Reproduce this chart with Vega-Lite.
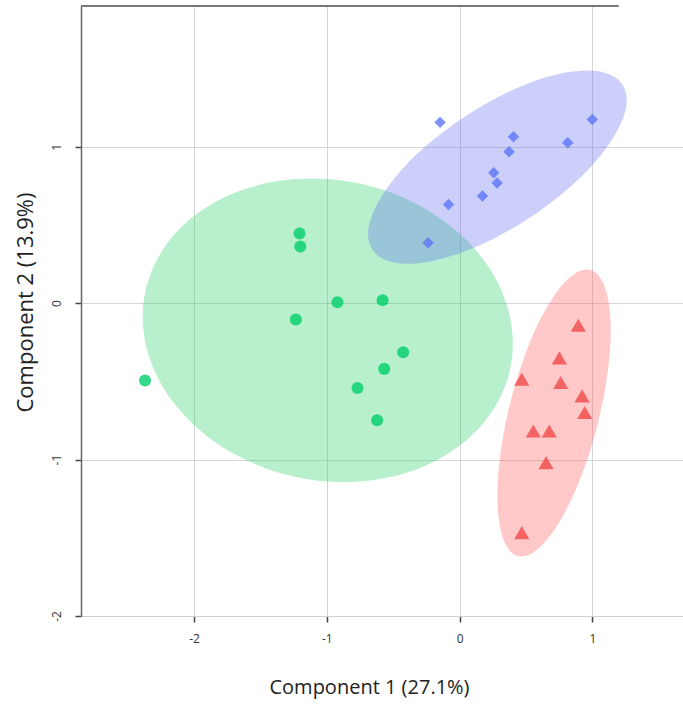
{
  "$schema": "https://vega.github.io/schema/vega-lite/v6.json",
  "width": 602,
  "height": 610,
  "autosize": "none",
  "padding": {"left": 81, "top": 6, "right": 0, "bottom": 90},
  "config": {"view": {"stroke": null}, "font": "Open Sans"},
  "datasets": {
    "points": [
      {"group": "g", "x": -1.205, "y": 0.446}, {"group": "g", "x": -1.2, "y": 0.363}, {"group": "g", "x": -0.92, "y": 0.006},
      {"group": "g", "x": -0.58, "y": 0.019}, {"group": "g", "x": -1.233, "y": -0.104}, {"group": "g", "x": -0.425, "y": -0.314},
      {"group": "g", "x": -0.568, "y": -0.42}, {"group": "g", "x": -0.769, "y": -0.542}, {"group": "g", "x": -0.621, "y": -0.749},
      {"group": "g", "x": -2.369, "y": -0.495},
      {"group": "b", "x": -0.147, "y": 1.156}, {"group": "b", "x": 0.405, "y": 1.064}, {"group": "b", "x": 0.372, "y": 0.968},
      {"group": "b", "x": 0.999, "y": 1.175}, {"group": "b", "x": 0.814, "y": 1.026}, {"group": "b", "x": 0.257, "y": 0.834},
      {"group": "b", "x": 0.282, "y": 0.768}, {"group": "b", "x": 0.172, "y": 0.685}, {"group": "b", "x": -0.084, "y": 0.631},
      {"group": "b", "x": -0.237, "y": 0.386},
      {"group": "r", "x": 0.894, "y": -0.141}, {"group": "r", "x": 0.751, "y": -0.35}, {"group": "r", "x": 0.468, "y": -0.486},
      {"group": "r", "x": 0.761, "y": -0.507}, {"group": "r", "x": 0.922, "y": -0.593}, {"group": "r", "x": 0.942, "y": -0.699},
      {"group": "r", "x": 0.555, "y": -0.817}, {"group": "r", "x": 0.675, "y": -0.817}, {"group": "r", "x": 0.651, "y": -1.019},
      {"group": "r", "x": 0.468, "y": -1.467}
    ],
    "ellipses": [
      {"group": "g", "i": 0, "x": 0.401, "y": -0.258}, {"group": "g", "i": 1, "x": 0.353, "y": -0.005},
      {"group": "g", "i": 2, "x": 0.214, "y": 0.237}, {"group": "g", "i": 3, "x": -0.008, "y": 0.45},
      {"group": "g", "i": 4, "x": -0.296, "y": 0.622}, {"group": "g", "i": 5, "x": -0.632, "y": 0.739},
      {"group": "g", "i": 6, "x": -0.993, "y": 0.794}, {"group": "g", "i": 7, "x": -1.354, "y": 0.783},
      {"group": "g", "i": 8, "x": -1.69, "y": 0.707}, {"group": "g", "i": 9, "x": -1.978, "y": 0.571},
      {"group": "g", "i": 10, "x": -2.2, "y": 0.384}, {"group": "g", "i": 11, "x": -2.339, "y": 0.159},
      {"group": "g", "i": 12, "x": -2.387, "y": -0.088}, {"group": "g", "i": 13, "x": -2.339, "y": -0.341},
      {"group": "g", "i": 14, "x": -2.2, "y": -0.583}, {"group": "g", "i": 15, "x": -1.978, "y": -0.796},
      {"group": "g", "i": 16, "x": -1.69, "y": -0.968}, {"group": "g", "i": 17, "x": -1.354, "y": -1.085},
      {"group": "g", "i": 18, "x": -0.993, "y": -1.14}, {"group": "g", "i": 19, "x": -0.632, "y": -1.129},
      {"group": "g", "i": 20, "x": -0.296, "y": -1.053}, {"group": "g", "i": 21, "x": -0.008, "y": -0.917},
      {"group": "g", "i": 22, "x": 0.214, "y": -0.73}, {"group": "g", "i": 23, "x": 0.353, "y": -0.506},
      {"group": "b", "i": 0, "x": 1.258, "y": 1.299}, {"group": "b", "i": 1, "x": 1.225, "y": 1.399},
      {"group": "b", "i": 2, "x": 1.127, "y": 1.464}, {"group": "b", "i": 3, "x": 0.973, "y": 1.488},
      {"group": "b", "i": 4, "x": 0.771, "y": 1.47}, {"group": "b", "i": 5, "x": 0.536, "y": 1.411},
      {"group": "b", "i": 6, "x": 0.284, "y": 1.315}, {"group": "b", "i": 7, "x": 0.032, "y": 1.189},
      {"group": "b", "i": 8, "x": -0.203, "y": 1.041}, {"group": "b", "i": 9, "x": -0.405, "y": 0.882},
      {"group": "b", "i": 10, "x": -0.559, "y": 0.721}, {"group": "b", "i": 11, "x": -0.656, "y": 0.571},
      {"group": "b", "i": 12, "x": -0.69, "y": 0.441}, {"group": "b", "i": 13, "x": -0.656, "y": 0.341},
      {"group": "b", "i": 14, "x": -0.559, "y": 0.276}, {"group": "b", "i": 15, "x": -0.405, "y": 0.252},
      {"group": "b", "i": 16, "x": -0.203, "y": 0.27}, {"group": "b", "i": 17, "x": 0.032, "y": 0.329},
      {"group": "b", "i": 18, "x": 0.284, "y": 0.425}, {"group": "b", "i": 19, "x": 0.536, "y": 0.551},
      {"group": "b", "i": 20, "x": 0.771, "y": 0.699}, {"group": "b", "i": 21, "x": 0.973, "y": 0.858},
      {"group": "b", "i": 22, "x": 1.127, "y": 1.019}, {"group": "b", "i": 23, "x": 1.225, "y": 1.169},
      {"group": "r", "i": 0, "x": 0.957, "y": 0.216}, {"group": "r", "i": 1, "x": 1.039, "y": 0.184},
      {"group": "r", "i": 2, "x": 1.098, "y": 0.093}, {"group": "r", "i": 3, "x": 1.131, "y": -0.053},
      {"group": "r", "i": 4, "x": 1.136, "y": -0.243}, {"group": "r", "i": 5, "x": 1.111, "y": -0.465},
      {"group": "r", "i": 6, "x": 1.059, "y": -0.702}, {"group": "r", "i": 7, "x": 0.984, "y": -0.94},
      {"group": "r", "i": 8, "x": 0.89, "y": -1.161}, {"group": "r", "i": 9, "x": 0.784, "y": -1.351},
      {"group": "r", "i": 10, "x": 0.672, "y": -1.497}, {"group": "r", "i": 11, "x": 0.564, "y": -1.588},
      {"group": "r", "i": 12, "x": 0.465, "y": -1.62}, {"group": "r", "i": 13, "x": 0.383, "y": -1.588},
      {"group": "r", "i": 14, "x": 0.324, "y": -1.497}, {"group": "r", "i": 15, "x": 0.291, "y": -1.351},
      {"group": "r", "i": 16, "x": 0.286, "y": -1.161}, {"group": "r", "i": 17, "x": 0.311, "y": -0.94},
      {"group": "r", "i": 18, "x": 0.363, "y": -0.702}, {"group": "r", "i": 19, "x": 0.438, "y": -0.465},
      {"group": "r", "i": 20, "x": 0.532, "y": -0.243}, {"group": "r", "i": 21, "x": 0.639, "y": -0.053},
      {"group": "r", "i": 22, "x": 0.75, "y": 0.093}, {"group": "r", "i": 23, "x": 0.858, "y": 0.184}
    ],
    "frame": [{"x": -2.851, "x2": 1.197, "y": 1.9}]
  },
  "encoding": {
    "x": {
      "field": "x", "type": "quantitative",
      "scale": {"domain": [-2.851, 1.682], "nice": false, "zero": false},
      "axis": {
        "title": "Component 1 (27.1%)", "values": [-2, -1, 0, 1], "labelExpr": "datum.value + ''",
        "grid": true, "gridColor": "#d6d6d6", "gridWidth": 1,
        "domainColor": "#cfcfcf", "domainWidth": 1,
        "tickColor": "#444", "tickSize": 6, "tickWidth": 1.5,
        "labelFontSize": 12, "labelColor": "#333", "labelPadding": 11,
        "titleFontSize": 20, "titleFontWeight": "normal", "titleColor": "#222", "titlePadding": 33, "titleX": 288
      }
    },
    "y": {
      "field": "y", "type": "quantitative",
      "scale": {"domain": [-2, 1.9], "nice": false, "zero": false},
      "axis": {
        "title": "Component 2 (13.9%)", "values": [-2, -1, 0, 1], "labelExpr": "datum.value + ''",
        "grid": true, "gridColor": "#d6d6d6", "gridWidth": 1,
        "domainColor": "#666", "domainWidth": 1.5,
        "tickColor": "#444", "tickSize": 6, "tickWidth": 1.5,
        "labelAngle": -90, "labelFontSize": 12, "labelColor": "#333", "labelPadding": 12,
        "titleFontSize": 22, "titleFontWeight": "normal", "titleColor": "#222", "titlePadding": 13, "titleY": 296
      }
    }
  },
  "layer": [
    {
      "data": {"name": "ellipses"},
      "transform": [{"filter": "datum.group === 'g'"}],
      "mark": {"type": "line", "interpolate": "cardinal-closed", "fill": "#14CC5C", "fillOpacity": 0.3, "strokeWidth": 0},
      "encoding": {"order": {"field": "i", "type": "quantitative"}}
    },
    {
      "data": {"name": "ellipses"},
      "transform": [{"filter": "datum.group === 'b'"}],
      "mark": {"type": "line", "interpolate": "cardinal-closed", "fill": "#555FEE", "fillOpacity": 0.3, "strokeWidth": 0},
      "encoding": {"order": {"field": "i", "type": "quantitative"}}
    },
    {
      "data": {"name": "ellipses"},
      "transform": [{"filter": "datum.group === 'r'"}],
      "mark": {"type": "line", "interpolate": "cardinal-closed", "fill": "#FF4B4B", "fillOpacity": 0.3, "strokeWidth": 0},
      "encoding": {"order": {"field": "i", "type": "quantitative"}}
    },
    {
      "data": {"name": "points"},
      "transform": [{"filter": "datum.group === 'g'"}],
      "mark": {"type": "point", "shape": "circle", "filled": true, "color": "#00D06A", "opacity": 0.8, "strokeWidth": 0, "size": 145}
    },
    {
      "data": {"name": "points"},
      "transform": [{"filter": "datum.group === 'b'"}],
      "mark": {"type": "point", "shape": "diamond", "filled": true, "color": "#5C75F7", "opacity": 0.8, "strokeWidth": 0, "size": 130}
    },
    {
      "data": {"name": "points"},
      "transform": [{"filter": "datum.group === 'r'"}],
      "mark": {"type": "point", "shape": "triangle-up", "filled": true, "color": "#F14A4A", "opacity": 0.8, "strokeWidth": 0, "size": 230}
    },
    {
      "data": {"name": "frame"},
      "mark": {"type": "rule", "color": "#777", "strokeWidth": 2},
      "encoding": {"x2": {"field": "x2"}}
    }
  ]
}
